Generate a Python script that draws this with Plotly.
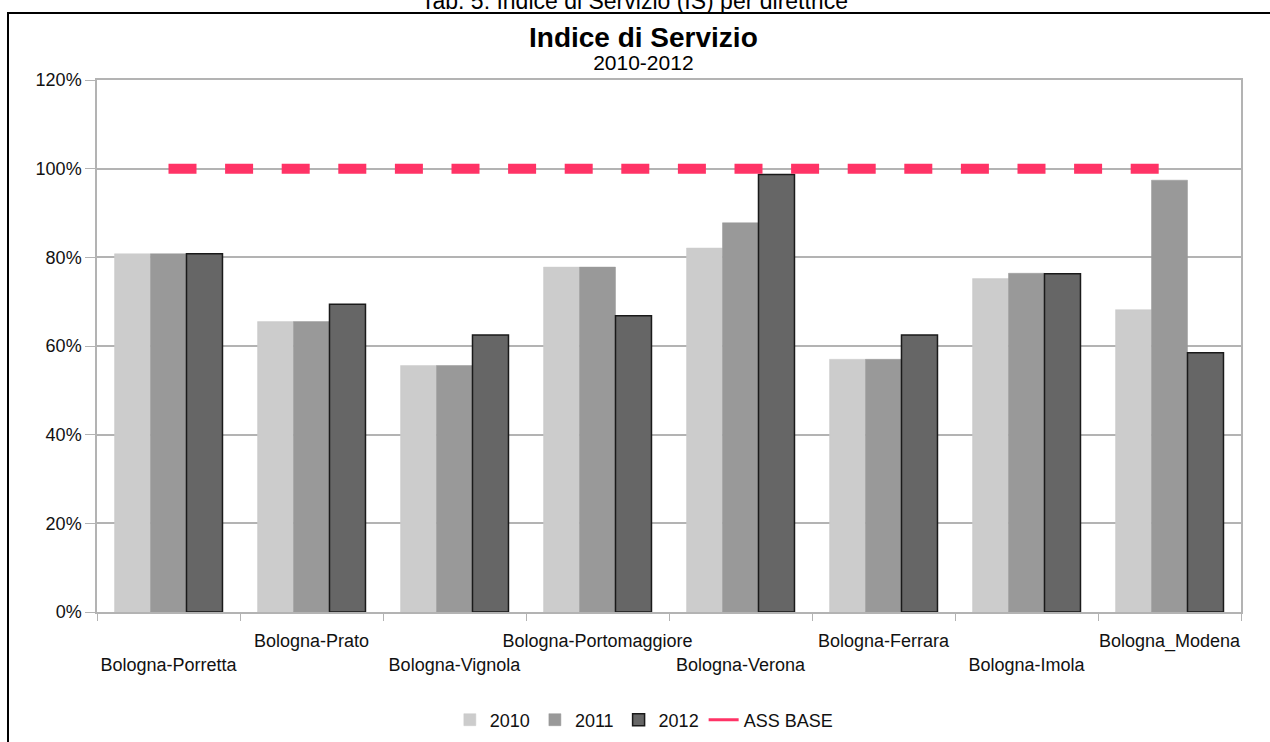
import plotly.graph_objects as go

categories = ["Bologna-Porretta", "Bologna-Prato", "Bologna-Vignola", "Bologna-Portomaggiore",
              "Bologna-Verona", "Bologna-Ferrara", "Bologna-Imola", "Bologna_Modena"]
v2010 = [0.808, 0.655, 0.556, 0.778, 0.821, 0.570, 0.752, 0.682]
v2011 = [0.808, 0.655, 0.556, 0.778, 0.878, 0.570, 0.764, 0.974]
v2012 = [0.808, 0.694, 0.625, 0.668, 0.987, 0.625, 0.763, 0.585]
ass_base = [1.0] * len(categories)

tick_text = [("<br>" + c) if i % 2 == 0 else c for i, c in enumerate(categories)]

FONT = "Liberation Sans, Arial, sans-serif"
GRID = "#b3b3b3"
RED = "#ff3366"

fig = go.Figure()
fig.add_trace(go.Bar(name="2010", x=categories, y=v2010,
                     marker=dict(color="#cccccc", line=dict(color="#cccccc", width=0.5))))
fig.add_trace(go.Bar(name="2011", x=categories, y=v2011,
                     marker=dict(color="#999999", line=dict(color="#999999", width=0.5))))
fig.add_trace(go.Bar(name="2012", x=categories, y=v2012,
                     marker=dict(color="#666666", line=dict(color="#1a1a1a", width=1.5))))
fig.add_trace(go.Scatter(name="ASS BASE", x=categories, y=ass_base, mode="lines",
                         legendgroup="ass", showlegend=False,
                         line=dict(color=RED, width=10, dash="28px,28.6px")))
# legend entry for the line (thin solid sample as in the reference legend)
fig.add_trace(go.Scatter(name="ASS BASE", x=[None], y=[None], mode="lines",
                         legendgroup="ass", showlegend=True,
                         line=dict(color=RED, width=3)))

fig.update_layout(
    width=1270, height=742,
    margin=dict(l=97, r=29, t=80, b=130, autoexpand=False),
    paper_bgcolor="white", plot_bgcolor="white",
    font=dict(family=FONT, size=18, color="#111111"),
    barmode="group", bargap=0.245, bargroupgap=0,
    showlegend=True,
    legend=dict(orientation="h", x=0.478, xanchor="center", y=-0.203, yanchor="middle",
                font=dict(size=18, family=FONT), itemwidth=30, traceorder="normal",
                bgcolor="rgba(0,0,0,0)"),
    xaxis=dict(
        type="category", tickmode="array", tickvals=categories, ticktext=tick_text,
        tickson="boundaries", ticks="outside", ticklen=7, tickcolor=GRID,
        ticklabelstandoff=12, automargin=False,
        showline=True, linecolor=GRID, linewidth=1.5, mirror=True,
        showgrid=False, tickfont=dict(size=18, family=FONT), tickangle=0,
    ),
    yaxis=dict(
        range=[0, 1.2], dtick=0.2, tickformat=".0%", automargin=False,
        ticks="outside", ticklen=10, tickcolor=GRID,
        showline=True, linecolor=GRID, linewidth=1.5, mirror=True,
        showgrid=True, gridcolor=GRID, gridwidth=1.5,
        zeroline=False, tickfont=dict(size=18, family=FONT),
    ),
    annotations=[
        dict(text="Tab. 5: Indice di Servizio (IS) per direttrice", xref="paper", yref="paper",
             x=0.470, y=1.1203, xanchor="center", yanchor="bottom", showarrow=False,
             font=dict(size=23, family=FONT, color="#000000")),
        dict(text=("<span style='font-size:28px'><b>Indice di Servizio</b></span><br>"
                   "<span style='font-size:21px'>2010-2012</span>"),
             xref="paper", yref="paper",
             x=0.478, y=1.1128, xanchor="center", yanchor="top", showarrow=False,
             font=dict(size=18, family=FONT, color="#000000")),
    ],
    shapes=[
        dict(type="rect", xref="paper", yref="paper", x0=-0.0778, x1=1.05, y0=-0.3, y1=1.126,
             line=dict(color="#000000", width=2), fillcolor="rgba(0,0,0,0)", layer="below"),
    ],
)

fig.write_html("out.html")
